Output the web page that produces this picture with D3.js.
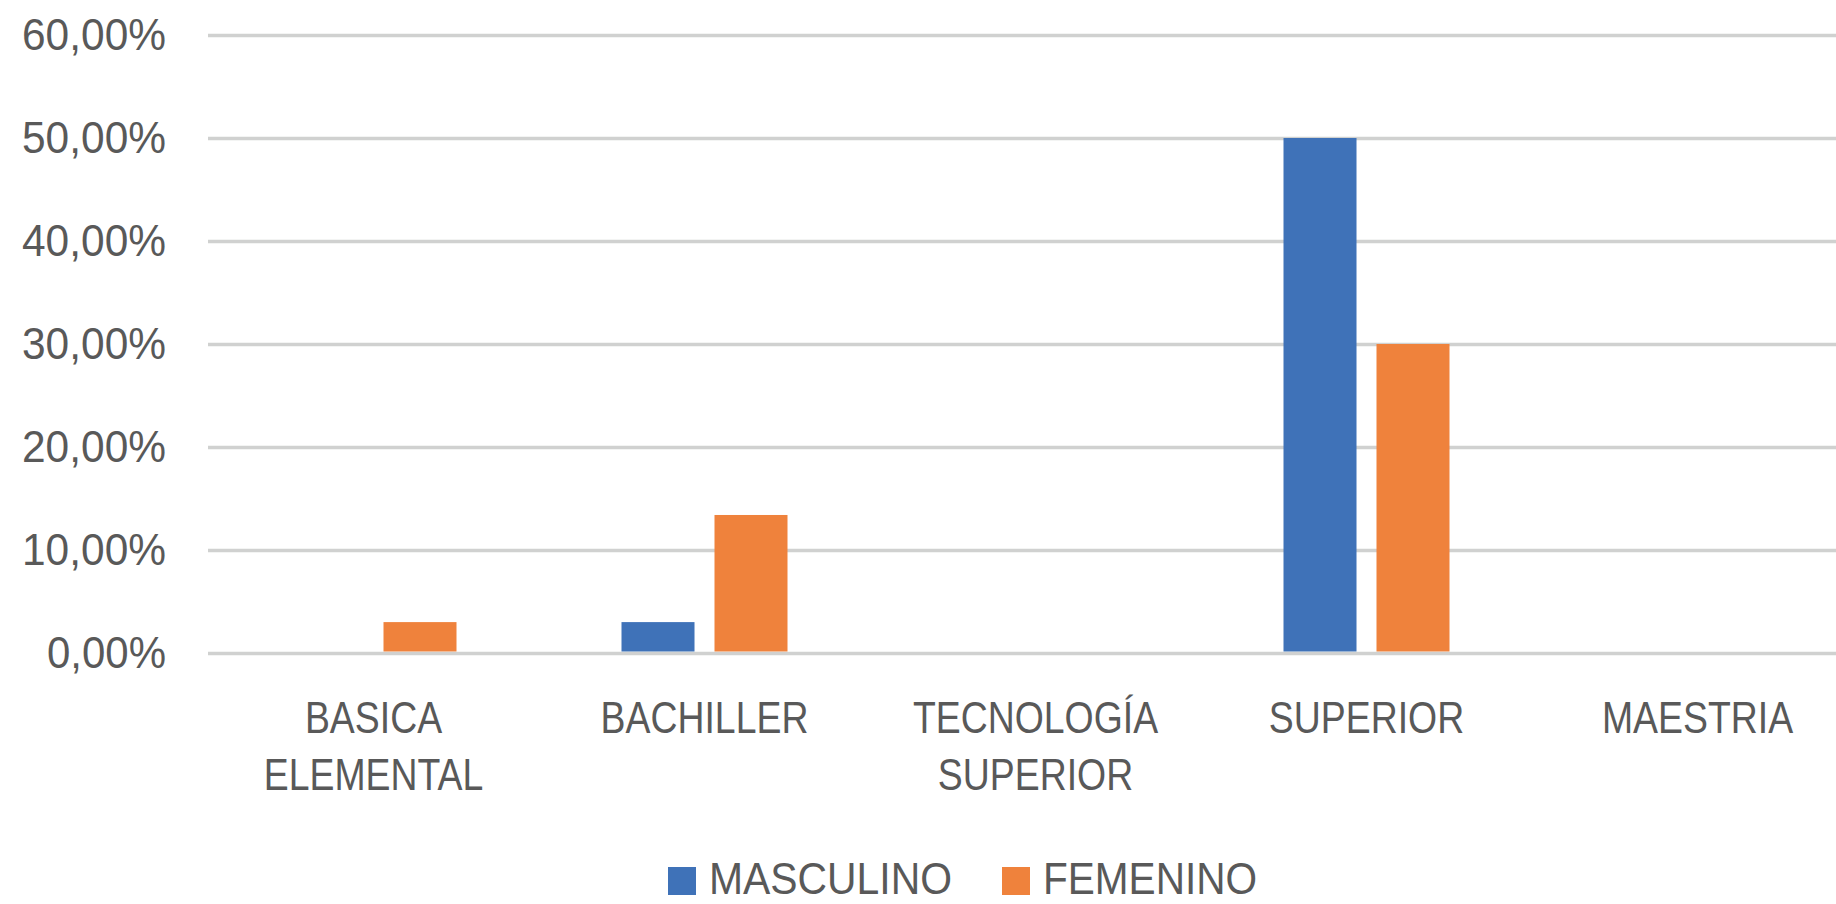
<!DOCTYPE html>
<html>
<head>
<meta charset="utf-8">
<script src="https://cdn.jsdelivr.net/npm/d3@7"></script>
<style>
  body { margin: 0; background: #fff; }
  text { font-family: "Liberation Sans", Arial, sans-serif; fill: #595959; }
</style>
</head>
<body>
<script>
// data
const categories = ["BASICA ELEMENTAL", "BACHILLER", "TECNOLOGÍA SUPERIOR", "SUPERIOR", "MAESTRIA"];
const seriesNames = ["MASCULINO", "FEMENINO"];
const masculino = [0, 0.03, 0, 0.50, 0];
const femenino = [0.03, 0.134, 0, 0.30, 0];
const yTicks = [0, 0.1, 0.2, 0.3, 0.4, 0.5, 0.6];
const colors = ["#3F72B8", "#EF823C"];

const width = 1836;
const height = 904;

const svg = d3.select("body").append("svg")
    .attr("width", width)
    .attr("height", height);

// original font is narrow (Calibri-ish), squeeze the text horizontally
function squeeze(sel, k) {
    sel.each(function() {
        const w = this.getComputedTextLength();
        d3.select(this).attr("textLength", w * k).attr("lengthAdjust", "spacingAndGlyphs");
    });
}

const left = 208, right = 1863; // plot runs off the right edge like the original
const x0 = d3.scaleBand().domain(categories).range([left, right]).padding(0);
const x1 = d3.scaleBand().domain(seriesNames)
    .range([x0.bandwidth() / 2 - 83, x0.bandwidth() / 2 + 83])
    .paddingInner(0.215);
const y = d3.scaleLinear().domain([0, 0.6]).range([653, 35]);

const es = d3.formatLocale({decimal: ",", thousands: ".", grouping: [3], currency: ["", "€"]});
const pct = es.format(".2%");

// gridlines + y labels
const yAxis = svg.append("g")
    .attr("transform", `translate(${left},0)`)
    .call(d3.axisLeft(y).tickValues(yTicks).tickFormat(pct)
        .tickSize(-(right - left)).tickPadding(42));
yAxis.select(".domain").remove();
yAxis.selectAll(".tick line").attr("stroke", "#D0D1D0").attr("stroke-width", 3.5);
yAxis.selectAll(".tick text")
    .attr("font-family", null)
    .attr("font-size", 44)
    .attr("dy", "0.32em")
    .style("fill", "#595959")
    .attr("textLength", function() { return this.textContent.length > 5 ? 144 : 119; })
    .attr("lengthAdjust", "spacingAndGlyphs");

// bars
const rows = categories.map((c, i) => ({cat: c, vals: [masculino[i], femenino[i]]}));
const groups = svg.append("g").selectAll("g")
    .data(rows)
    .join("g")
    .attr("transform", d => `translate(${x0(d.cat)},0)`);

groups.selectAll("rect")
    .data(d => d.vals.map((v, j) => ({name: seriesNames[j], v: v, j: j})))
    .join("rect")
    .attr("x", d => x1(d.name))
    .attr("width", x1.bandwidth())
    .attr("y", d => y(d.v))
    .attr("height", d => y(0) - y(d.v) - 1.5)
    .attr("fill", d => colors[d.j]);

// category labels, one text per line so each can be squeezed
const lines = [];
categories.forEach(c => c.split(" ").forEach((w, i) => lines.push({cat: c, word: w, i: i})));
svg.append("g").selectAll("text")
    .data(lines)
    .join("text")
    .attr("text-anchor", "middle")
    .attr("font-size", 44)
    .attr("x", d => x0(d.cat) + x0.bandwidth() / 2)
    .attr("y", d => 733 + d.i * 57)
    .text(d => d.word)
    .call(squeeze, 0.85);

// legend
const legX = [668, 1002];
const leg = svg.append("g").selectAll("g")
    .data(seriesNames)
    .join("g")
    .attr("transform", (d, i) => `translate(${legX[i]},0)`);
leg.append("rect")
    .attr("y", 867).attr("width", 28).attr("height", 28)
    .attr("fill", (d, i) => colors[i]);
leg.append("text")
    .attr("x", 41).attr("y", 894)
    .attr("font-size", 44)
    .attr("textLength", (d, i) => [243, 214][i])
    .attr("lengthAdjust", "spacingAndGlyphs")
    .text(d => d);
</script>
</body>
</html>
